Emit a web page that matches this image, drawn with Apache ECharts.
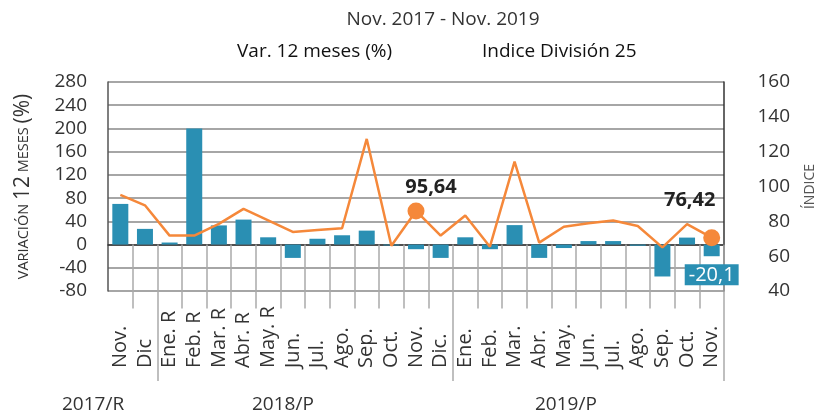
<!DOCTYPE html>
<html>
<head>
<meta charset="utf-8">
<script src="https://cdn.jsdelivr.net/npm/echarts@6/dist/echarts.min.js"></script>
<style>
  html, body { margin: 0; padding: 0; background: #fff; }
  #chart { width: 825px; height: 415px; }
</style>
</head>
<body>
<div id="chart"></div>
<script>
// meses Nov. 2017 - Nov. 2019
const months = [
  "Nov.", "Dic",
  "Ene. R", "Feb. R", "Mar. R", "Abr. R", "May. R", "Jun.", "Jul.", "Ago.", "Sep.", "Oct.", "Nov.", "Dic.",
  "Ene.", "Feb.", "Mar.", "Abr.", "May.", "Jun.", "Jul.", "Ago.", "Sep.", "Oct.", "Nov."
];
// variación 12 meses (%)
const variation = [
  70, 27,
  3.5, 200, 33, 43, 12.5, -23, 10, 16, 24, -1.5, -8, -23,
  12.5, -8, 33.5, -23, -6, 6, 6, -2, -55, 12, -20.1
];
// índice división 25
const indexValues = [
  107.2, 99.7,
  77.9, 77.9, 86.3, 97.1, 88.9, 80.5, 82, 83.2, 147.5, 70.6, 95.64, 77.9,
  92.3, 69.9, 131.1, 72.8, 84.3, 86.8, 88.7, 84.8, 69.4, 86.1, 76.42
];
const yearLabels = ["2017/R", "2018/P", "2019/P"];
const highlighted = [12, 24];

const FONT = "Open Sans";
const textColor = "#333";
const barColor = "#2a8fb3";
const lineColor = "#f5883a";

const fmt = (v) => String(v).replace(".", ",");

const chart = echarts.init(document.getElementById("chart"));

const lineData = indexValues.map((v, i) => {
  if (!highlighted.includes(i)) return v;
  const last = i === indexValues.length - 1;
  return {
    value: v,
    symbol: "circle",
    symbolSize: 17,
    itemStyle: { color: lineColor },
    label: {
      show: true,
      position: "top",
      offset: last ? [-22, -14] : [15, 0],
      formatter: (p) => fmt(p.value),
      fontFamily: FONT,
      fontSize: 20,
      fontWeight: "bold",
      color: "#222",
    },
  };
});

const barData = variation.map((v, i) =>
  i === variation.length - 1
    ? {
        value: v,
        label: {
          show: true,
          position: "bottom",
          distance: 8,
          formatter: (p) => fmt(p.value),
          backgroundColor: barColor,
          color: "#fff",
          fontFamily: FONT,
          fontSize: 20,
          padding: [1, 4, 0, 4],
        },
      }
    : v
);

chart.setOption({
  animation: false,
  textStyle: { fontFamily: FONT },
  title: [
    {
      text: "Nov. 2017 - Nov. 2019",
      left: 438,
      textAlign: "center",
      top: 5,
      textStyle: { fontFamily: FONT, fontSize: 19, fontWeight: "normal", color: textColor },
    },
    {
      text: "Var. 12 meses (%)",
      left: 232,
      top: 37,
      textStyle: { fontFamily: FONT, fontSize: 19, fontWeight: "normal", color: "#111" },
    },
    {
      text: "Indice División 25",
      left: 477,
      top: 37,
      textStyle: { fontFamily: FONT, fontSize: 19, fontWeight: "normal", color: "#111" },
    },
  ],
  grid: { top: 82, bottom: 124, left: 108, right: 94 },
  xAxis: [
    {
      type: "category",
      data: months,
      position: "bottom",
      axisLine: { lineStyle: { color: "#333", width: 1.5 } },
      axisTick: {
        show: true,
        length: 64,
        interval: (i) => i !== 0,
        lineStyle: { color: "#aaa", width: 1.5 },
      },
      axisLabel: {
        interval: 0,
        rotate: 90,
        align: "left",
        margin: 77,
        fontFamily: FONT,
        fontSize: 20,
        color: textColor,
      },
    },
    {
      type: "category",
      data: months,
      position: "bottom",
      offset: 0,
      axisLine: { show: false },
      axisLabel: { show: false },
      axisTick: {
        show: true,
        length: 90,
        interval: (i) => i === 2 || i === 14,
        lineStyle: { color: "#aaa", width: 1.5 },
      },
    },
  ],
  yAxis: [
    {
      type: "value",
      position: "left",
      min: -80,
      max: 280,
      interval: 40,
      name: "{s|VARIACIÓN }{b|12}{s| MESES }{b|(%)}",
      nameLocation: "middle",
      nameGap: 74,
      nameRotate: 90,
      nameTextStyle: {
        color: textColor,
        rich: {
          s: { fontFamily: FONT, fontSize: 14.5, color: textColor },
          b: { fontFamily: FONT, fontSize: 21, color: textColor },
        },
      },
      axisLine: { show: true, lineStyle: { color: "#555", width: 1.5 } },
      axisTick: { show: false },
      axisLabel: { margin: 21, fontFamily: FONT, fontSize: 19, color: textColor },
      splitLine: { lineStyle: { color: "#a6a6a6", width: 1.8 } },
    },
    {
      type: "value",
      position: "right",
      min: 40,
      max: 160,
      interval: 20,
      name: "ÍNDICE",
      nameLocation: "middle",
      nameGap: 79,
      nameRotate: 90,
      nameTextStyle: { fontFamily: FONT, fontSize: 14, color: "#555" },
      axisLine: { show: true, lineStyle: { color: "#333", width: 1.5 } },
      axisTick: { show: false },
      axisLabel: { align: "right", margin: 66, fontFamily: FONT, fontSize: 19, color: textColor },
      splitLine: { show: false },
    },
    {
      // escala del índice tal como está dibujada la línea
      type: "value",
      show: false,
      position: "right",
      min: 38,
      max: 188.5,
      splitLine: { show: false },
    },
  ],
  series: [
    {
      name: "Var. 12 meses (%)",
      type: "bar",
      xAxisIndex: 0,
      yAxisIndex: 0,
      barWidth: 16,
      itemStyle: { color: barColor },
      data: barData,
    },
    {
      name: "Indice División 25",
      type: "line",
      xAxisIndex: 0,
      yAxisIndex: 2,
      symbol: "none",
      lineStyle: { color: lineColor, width: 2.5 },
      itemStyle: { color: lineColor },
      data: lineData,
      z: 3,
    },
  ],
  graphic: yearLabels.map((t, i) => ({
    type: "text",
    left: [62, 252, 535][i],
    top: 395,
    style: { text: t, fontFamily: FONT, fontSize: 19, fill: textColor },
  })),
});
</script>
</body>
</html>
